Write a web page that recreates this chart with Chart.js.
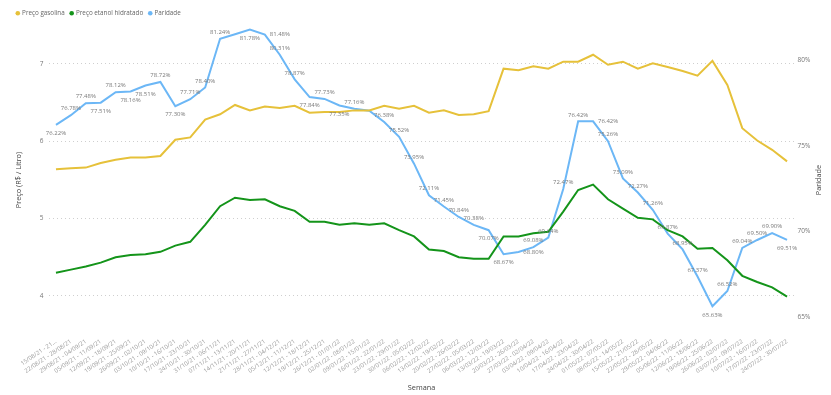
<!DOCTYPE html>
<html>
<head>
<meta charset="utf-8">
<script src="https://cdn.jsdelivr.net/npm/chart.js@4.4.0/dist/chart.umd.min.js"></script>
<style>
    html, body { margin: 0; padding: 0; background: #fff; }
    #wrap { width: 831px; height: 395px; position: relative; }
</style>
</head>
<body>
<div id="wrap"><canvas id="paridadeChart"></canvas></div>
<script>
const semanas = [
    '15/08/21 - 21/08/21', '22/08/21 - 28/08/21', '29/08/21 - 04/09/21', '05/09/21 - 11/09/21',
    '12/09/21 - 18/09/21', '19/09/21 - 25/09/21', '26/09/21 - 02/10/21', '03/10/21 - 09/10/21',
    '10/10/21 - 16/10/21', '17/10/21 - 23/10/21', '24/10/21 - 30/10/21', '31/10/21 - 06/11/21',
    '07/11/21 - 13/11/21', '14/11/21 - 20/11/21', '21/11/21 - 27/11/21', '28/11/21 - 04/12/21',
    '05/12/21 - 11/12/21', '12/12/21 - 18/12/21', '19/12/21 - 25/12/21', '26/12/21 - 01/01/22',
    '02/01/22 - 08/01/22', '09/01/22 - 15/01/22', '16/01/22 - 22/01/22', '23/01/22 - 29/01/22',
    '30/01/22 - 05/02/22', '06/02/22 - 12/02/22', '13/02/22 - 19/02/22', '20/02/22 - 26/02/22',
    '27/02/22 - 05/03/22', '06/03/22 - 12/03/22', '13/03/22 - 19/03/22', '20/03/22 - 26/03/22',
    '27/03/22 - 02/04/22', '03/04/22 - 09/04/22', '10/04/22 - 16/04/22', '17/04/22 - 23/04/22',
    '24/04/22 - 30/04/22', '01/05/22 - 07/05/22', '08/05/22 - 14/05/22', '15/05/22 - 21/05/22',
    '22/05/22 - 28/05/22', '29/05/22 - 04/06/22', '05/06/22 - 11/06/22', '12/06/22 - 18/06/22',
    '19/06/22 - 25/06/22', '26/06/22 - 02/07/22', '03/07/22 - 09/07/22', '10/07/22 - 16/07/22',
    '17/07/22 - 23/07/22', '24/07/22 - 30/07/22'
];

const gasolina = [
    5.64, 5.65, 5.66, 5.72, 5.76, 5.79, 5.79, 5.81, 6.02, 6.05,
    6.28, 6.35, 6.47, 6.40, 6.45, 6.43, 6.46, 6.37, 6.38, 6.38,
    6.40, 6.40, 6.46, 6.42, 6.46, 6.37, 6.40, 6.34, 6.35, 6.39,
    6.94, 6.92, 6.97, 6.94, 7.03, 7.03, 7.12, 6.99, 7.03, 6.94,
    7.01, 6.96, 6.91, 6.85, 7.04, 6.73, 6.17, 6.01, 5.89, 5.74
];

const etanol = [
    4.30, 4.34, 4.38, 4.43, 4.50, 4.53, 4.54, 4.57, 4.65, 4.70,
    4.92, 5.16, 5.27, 5.24, 5.25, 5.16, 5.10, 4.96, 4.96, 4.92,
    4.94, 4.92, 4.94, 4.85, 4.77, 4.60, 4.58, 4.50, 4.48, 4.48,
    4.77, 4.77, 4.81, 4.83, 5.09, 5.37, 5.44, 5.25, 5.13, 5.01,
    4.99, 4.85, 4.77, 4.61, 4.62, 4.46, 4.26, 4.18, 4.11, 3.99
];

const paridade = [
    76.22, 76.78, 77.48, 77.51, 78.12, 78.16, 78.51, 78.72, 77.30, 77.71,
    78.40, 81.24, 81.50, 81.78, 81.48, 80.31, 78.87, 77.84, 77.73, 77.35,
    77.16, 77.04, 76.38, 75.52, 73.95, 72.11, 71.45, 70.84, 70.38, 70.07,
    68.67, 68.80, 69.08, 69.64, 72.47, 76.42, 76.42, 75.26, 73.09, 72.27,
    71.26, 69.87, 68.95, 67.37, 65.63, 66.52, 69.04, 69.50, 69.90, 69.51
];

const ticksPreco = [4, 5, 6, 7];
const ticksParidade = [65, 70, 75, 80];

// onde vai o rótulo de cada ponto da paridade: a = acima, b = abaixo, r = ao lado, '' = nenhum
const posRotulo = [
    'b', 'a', 'a', 'b', 'a', 'b', 'b', 'a', 'b', 'a',
    'a', 'a', '',  'b', 'r', 'a', 'a', 'b', 'a', 'b',
    'a', '',  'a', 'a', 'a', 'a', 'a', 'a', 'a', 'b',
    'b', 'r', 'a', 'a', 'a', 'a', 'r', 'a', 'a', 'a',
    'a', 'a', 'a', 'a', 'b', 'a', 'a', 'a', 'a', 'b'
];

const FONTE = '"Open Sans", "Segoe UI", sans-serif';

// legenda, rótulos de dados e títulos dos eixos
const extras = {
    id: 'extras',
    afterDatasetsDraw(chart) {
        const ctx = chart.ctx;
        const meta = chart.getDatasetMeta(2);
        ctx.save();
        ctx.font = '6px ' + FONTE;
        ctx.fillStyle = '#7a7a7a';
        ctx.textAlign = 'center';
        ctx.textBaseline = 'middle';
        meta.data.forEach((pt, i) => {
            const pos = posRotulo[i];
            if (!pos) return;
            let x = pt.x, y = pt.y;
            if (pos === 'a') y -= 6.5;
            else if (pos === 'b') y += 8.5;
            else x += 15;
            ctx.fillText(paridade[i].toFixed(2) + '%', x, y);
        });

        const area = chart.chartArea;
        ctx.font = '7.3px ' + FONTE;
        ctx.fillStyle = '#444';
        ctx.fillText('Semana', (area.left + area.right) / 2, 387.5);

        ctx.save();
        ctx.translate(19, 180);
        ctx.rotate(-Math.PI / 2);
        ctx.fillText('Preço (R$ / Litro)', 0, 0);
        ctx.restore();

        ctx.save();
        ctx.translate(819, 180);
        ctx.rotate(-Math.PI / 2);
        ctx.fillText('Paridade', 0, 0);
        ctx.restore();

        // legenda
        ctx.font = '6.3px ' + FONTE;
        ctx.textAlign = 'left';
        let x = 17.8;
        chart.data.datasets.forEach(ds => {
            ctx.fillStyle = ds.borderColor;
            ctx.beginPath();
            ctx.arc(x, 13.3, 2.3, 0, Math.PI * 2);
            ctx.fill();
            ctx.fillStyle = '#666';
            ctx.fillText(ds.label, x + 4.3, 13.3);
            x += 4.3 + ctx.measureText(ds.label).width + 7;
        });
        ctx.restore();
    }
};

function renderChart() {
    const ctx = document.getElementById('paridadeChart').getContext('2d');
    new Chart(ctx, {
        type: 'line',
        data: {
            labels: semanas,
            datasets: [
                {
                    label: 'Preço gasolina',
                    data: gasolina,
                    yAxisID: 'y',
                    borderColor: '#E6C13A',
                    backgroundColor: '#E6C13A',
                    borderWidth: 2,
                    pointRadius: 0,
                    tension: 0
                },
                {
                    label: 'Preço etanol hidratado',
                    data: etanol,
                    yAxisID: 'y',
                    borderColor: '#14941A',
                    backgroundColor: '#14941A',
                    borderWidth: 2,
                    pointRadius: 0,
                    tension: 0
                },
                {
                    label: 'Paridade',
                    data: paridade,
                    yAxisID: 'y2',
                    borderColor: '#6CB7F6',
                    backgroundColor: '#6CB7F6',
                    borderWidth: 2,
                    pointRadius: 0,
                    tension: 0
                }
            ]
        },
        options: {
            responsive: true,
            maintainAspectRatio: false,
            animation: false,
            layout: { padding: { top: 22 } },
            plugins: {
                legend: { display: false },
                tooltip: { enabled: false }
            },
            scales: {
                x: {
                    offset: true,
                    grid: { display: false, drawTicks: false },
                    border: { display: false },
                    ticks: {
                        autoSkip: false,
                        maxRotation: 34,
                        minRotation: 34,
                        padding: 16,
                        color: '#9a9a9a',
                        font: { size: 6, family: FONTE },
                        callback: function (v, i) {
                            const txt = semanas[i];
                            return i === 0 ? txt.slice(0, 13) + '...' : txt;
                        }
                    },
                    afterFit(s) { s.height = 73; }
                },
                y: {
                    position: 'left',
                    min: 3.6624,
                    max: 7.5433,
                    afterBuildTicks(s) { s.ticks = ticksPreco.map(v => ({ value: v })); },
                    grid: { color: '#cfcfcf', lineWidth: 1, drawTicks: false },
                    border: { display: false, dash: [1, 3] },
                    ticks: {
                        padding: 5,
                        color: '#777',
                        font: { size: 6.5, family: FONTE }
                    },
                    afterFit(s) { s.width = 48.5; }
                },
                y2: {
                    position: 'right',
                    min: 64.714,
                    max: 82.217,
                    afterBuildTicks(s) { s.ticks = ticksParidade.map(v => ({ value: v })); },
                    grid: { drawOnChartArea: false, drawTicks: false },
                    border: { display: false },
                    ticks: {
                        padding: 3,
                        color: '#777',
                        font: { size: 6.5, family: FONTE },
                        callback: v => v + '%'
                    },
                    afterFit(s) { s.width = 36.5; }
                }
            }
        },
        plugins: [extras]
    });
}

document.addEventListener('DOMContentLoaded', renderChart);
</script>
</body>
</html>
